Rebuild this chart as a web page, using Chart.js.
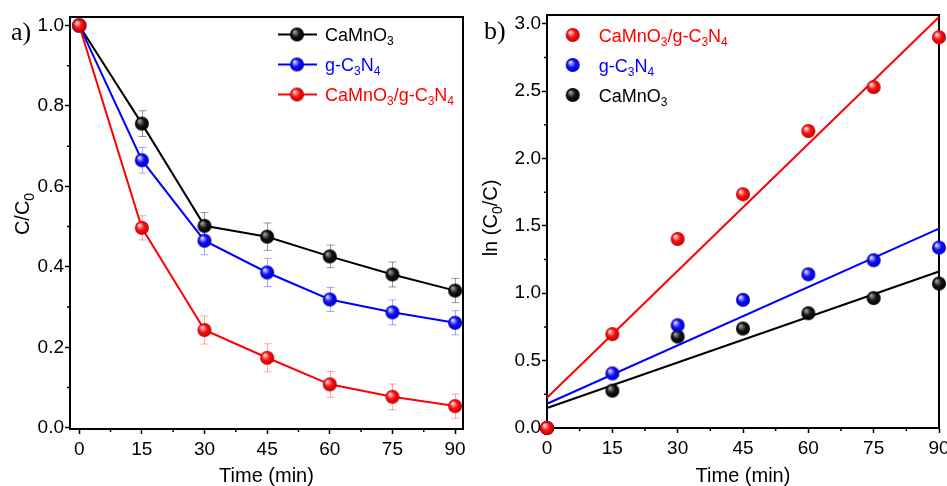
<!DOCTYPE html>
<html>
<head>
<meta charset="utf-8">
<script src="https://cdn.jsdelivr.net/npm/chart.js@4.4.0/dist/chart.umd.min.js"></script>
<style>
  html, body { margin: 0; padding: 0; background: #fff; }
  body { width: 947px; height: 486px; position: relative; overflow: hidden; }
  #chartA { position: absolute; left: 0; top: 0; }
  #chartB { position: absolute; left: 477px; top: 0; }
</style>
</head>
<body>
<canvas id="chartA" width="475" height="486"></canvas>
<canvas id="chartB" width="470" height="486"></canvas>
<script>
// time (min)
const times = [0, 15, 30, 45, 60, 75, 90];
const timeTicks = [0, 15, 30, 45, 60, 75, 90];
const timeMinor = [7.5, 22.5, 37.5, 52.5, 67.5, 82.5];

// a) C/C0
const ratioCaMnO3 = [1.0, 0.756, 0.502, 0.475, 0.426, 0.381, 0.341];
const ratioGCN = [1.0, 0.665, 0.465, 0.386, 0.319, 0.287, 0.261];
const ratioComposite = [1.0, 0.497, 0.243, 0.174, 0.108, 0.077, 0.054];
const errCaMnO3 = [0, 0.032, 0.033, 0.034, 0.028, 0.031, 0.030];
const errGCN = [0, 0.032, 0.035, 0.035, 0.030, 0.031, 0.030];
const errComposite = [0, 0.030, 0.035, 0.035, 0.032, 0.032, 0.030];
const ratioTicks = [0, 0.2, 0.4, 0.6, 0.8, 1.0];
const ratioMinor = [0.1, 0.3, 0.5, 0.7, 0.9];

// b) ln(C0/C)
const lnCaMnO3 = [0, 0.277, 0.679, 0.738, 0.852, 0.964, 1.072];
const lnGCN = [0, 0.405, 0.763, 0.951, 1.141, 1.245, 1.339];
const lnComposite = [0, 0.697, 1.403, 1.735, 2.204, 2.53, 2.90];
// linear fits: value at t = 0 and at t = 90
const fitTimes = [0, 90];
const fitCaMnO3 = [0.148, 1.161];
const fitGCN = [0.18, 1.48];
const fitComposite = [0.225, 3.05];
const lnTicks = [0, 0.5, 1.0, 1.5, 2.0, 2.5, 3.0];
const lnMinor = [0.25, 0.75, 1.25, 1.75, 2.25, 2.75];

const names = ['CaMnO3', 'g-C3N4', 'CaMnO3/g-C3N4'];
const FONT = '"Liberation Sans", Arial, sans-serif';

// shaded balls used as point markers
function makeBall(light, base, dark) {
  const r = 7;
  const c = document.createElement('canvas');
  c.width = c.height = 16;
  const g = c.getContext('2d');
  const grad = g.createRadialGradient(8 - 2.6, 8 - 2.8, 0.6, 8, 8, r);
  grad.addColorStop(0, light);
  grad.addColorStop(0.5, base);
  grad.addColorStop(1, dark);
  g.fillStyle = grad;
  g.beginPath();
  g.arc(8, 8, r, 0, Math.PI * 2);
  g.fill();
  return c;
}
const balls = [
  makeBall('#a0a0a0', '#151515', '#000000'),
  makeBall('#dcdcff', '#1010ff', '#0000b8'),
  makeBall('#ffdcdc', '#ff1010', '#c00000')
];
const lineColors = ['#000000', '#0000ff', '#ff0000'];
const errColors = ['rgba(0,0,0,0.4)', 'rgba(60,60,255,0.45)', 'rgba(255,60,60,0.45)'];

function pts(xs, ys) {
  return xs.map((x, i) => ({ x: x, y: ys[i] }));
}

// text with every digit drawn as a subscript
function drawRich(ctx, label, x, y, size, color, align) {
  const parts = label.split(/(\d+)/).filter(s => s).map(s => ({ t: s, sub: /^\d+$/.test(s) }));
  const main = size + 'px ' + FONT;
  const small = Math.round(size * 0.68) + 'px ' + FONT;
  let w = 0;
  parts.forEach(p => {
    ctx.font = p.sub ? small : main;
    p.w = ctx.measureText(p.t).width;
    w += p.w;
  });
  let cx = align === 'center' ? x - w / 2 : x;
  ctx.fillStyle = color;
  ctx.textAlign = 'left';
  ctx.textBaseline = 'alphabetic';
  parts.forEach(p => {
    ctx.font = p.sub ? small : main;
    ctx.fillText(p.t, cx, p.sub ? y + size * 0.24 : y);
    cx += p.w;
  });
}

const errorBars = {
  id: 'errorBars',
  beforeDatasetsDraw(chart) {
    const ctx = chart.ctx;
    const xs = chart.scales.x, ys = chart.scales.y;
    ctx.save();
    chart.data.datasets.forEach(ds => {
      if (!ds.errors) return;
      ctx.strokeStyle = ds.errorColor;
      ctx.lineWidth = 1;
      ds.data.forEach((p, j) => {
        const e = ds.errors[j];
        if (!e) return;
        const x = Math.round(xs.getPixelForValue(p.x)) + 0.5;
        const y1 = ys.getPixelForValue(p.y + e);
        const y2 = ys.getPixelForValue(p.y - e);
        ctx.beginPath();
        ctx.moveTo(x, y1); ctx.lineTo(x, y2);
        ctx.moveTo(x - 4, y1); ctx.lineTo(x + 4, y1);
        ctx.moveTo(x - 4, y2); ctx.lineTo(x + 4, y2);
        ctx.stroke();
      });
    });
    ctx.restore();
  }
};

// frame, minor ticks, titles, legend, panel letter
const decor = {
  id: 'decor',
  beforeDatasetsDraw(chart, args, o) {
    const ctx = chart.ctx, a = chart.chartArea;
    const xs = chart.scales.x, ys = chart.scales.y;
    ctx.save();
    ctx.strokeStyle = '#000';
    ctx.lineWidth = 2;
    ctx.strokeRect(a.left, a.top, a.right - a.left, a.bottom - a.top);
    ctx.lineWidth = 1.5;
    ctx.beginPath();
    o.xMinor.forEach(v => {
      const x = xs.getPixelForValue(v);
      ctx.moveTo(x, a.bottom); ctx.lineTo(x, a.bottom + 3);
    });
    o.yMinor.forEach(v => {
      const y = ys.getPixelForValue(v);
      ctx.moveTo(a.left, y); ctx.lineTo(a.left - 3, y);
    });
    ctx.stroke();
    ctx.restore();
  },
  afterDraw(chart, args, o) {
    const ctx = chart.ctx, a = chart.chartArea;
    ctx.save();
    drawRich(ctx, 'Time (min)', (a.left + a.right) / 2, o.xTitleY, 20, '#000', 'center');
    ctx.save();
    ctx.translate(o.yTitleX, o.yTitleY);
    ctx.rotate(-Math.PI / 2);
    drawRich(ctx, o.yTitle, 0, 0, 20, '#000', 'center');
    ctx.restore();
    ctx.font = '26px "Liberation Serif", "Times New Roman", serif';
    ctx.fillStyle = '#000';
    ctx.textAlign = 'left';
    ctx.textBaseline = 'alphabetic';
    ctx.fillText(o.letter, o.letterX, o.letterY);
    const L = o.legend;
    L.rows.forEach((k, i) => {
      const y = L.y0 + i * L.dy;
      if (L.line) {
        ctx.strokeStyle = lineColors[k];
        ctx.lineWidth = 2;
        ctx.beginPath();
        ctx.moveTo(L.lineX0, y); ctx.lineTo(L.lineX1, y);
        ctx.stroke();
      }
      ctx.drawImage(balls[k], L.ballX - 8, y - 8);
      drawRich(ctx, names[k], L.textX, y + 6.5, 18, lineColors[k], 'left');
    });
    ctx.restore();
  }
};

function axisX(min, max, h) {
  return {
    type: 'linear', min: min, max: max,
    afterBuildTicks: s => { s.ticks = timeTicks.map(v => ({ value: v })); },
    afterFit: s => { s.height = h; s.paddingLeft = 0; s.paddingRight = 0; },
    grid: { drawOnChartArea: false, tickLength: 5, tickColor: '#000', tickWidth: 1.5 },
    border: { display: true, color: '#000', width: 2 },
    ticks: { color: '#000', font: { family: FONT, size: 19 }, padding: 4, maxRotation: 0, autoSkip: false, callback: v => String(v) }
  };
}
function axisY(min, max, tickVals) {
  return {
    type: 'linear', min: min, max: max,
    afterBuildTicks: s => { s.ticks = tickVals.map(v => ({ value: v })); },
    afterFit: s => { s.width = 70; s.paddingTop = 0; s.paddingBottom = 0; },
    grid: { drawOnChartArea: false, tickLength: 5, tickColor: '#000', tickWidth: 1.5 },
    border: { display: true, color: '#000', width: 2 },
    ticks: { color: '#000', font: { family: FONT, size: 19 }, padding: 1, autoSkip: false, callback: v => v.toFixed(1) }
  };
}

const ratios = [ratioCaMnO3, ratioGCN, ratioComposite];
const errs = [errCaMnO3, errGCN, errComposite];
new Chart(document.getElementById('chartA'), {
  type: 'line',
  data: {
    datasets: [0, 1, 2].map(k => ({
      label: names[k],
      data: pts(times, ratios[k]),
      errors: errs[k],
      errorColor: errColors[k],
      borderColor: lineColors[k],
      borderWidth: 2,
      tension: 0,
      pointStyle: balls[k],
      pointRadius: 7,
      clip: false,
      order: 2 - k
    }))
  },
  options: {
    responsive: false,
    animation: false,
    layout: { padding: { top: 17, right: 12, left: 0, bottom: 0 } },
    scales: { x: axisX(-2.2, 91.9, 57), y: axisY(-0.003, 1.021, ratioTicks) },
    plugins: {
      legend: { display: false },
      tooltip: { enabled: false },
      decor: {
        xMinor: timeMinor, yMinor: ratioMinor,
        xTitleY: 482, yTitle: 'C/C0', yTitleX: 29, yTitleY: 214,
        letter: 'a)', letterX: 11, letterY: 40,
        legend: { rows: [0, 1, 2], y0: 34.5, dy: 30, line: true, lineX0: 278, lineX1: 317, ballX: 297, textX: 325 }
      }
    }
  },
  plugins: [errorBars, decor]
});

const lns = [lnCaMnO3, lnGCN, lnComposite];
const fits = [fitCaMnO3, fitGCN, fitComposite];
const setsB = [];
[0, 1, 2].forEach(k => {
  setsB.push({
    label: names[k] + ' fit',
    data: pts(fitTimes, fits[k]),
    showLine: true,
    borderColor: lineColors[k],
    borderWidth: 2,
    pointRadius: 0,
    clip: false,
    order: 10 - k
  });
  setsB.push({
    label: names[k],
    data: pts(times, lns[k]),
    showLine: false,
    pointStyle: balls[k],
    pointRadius: 7,
    clip: false,
    order: 4 - k
  });
});
new Chart(document.getElementById('chartB'), {
  type: 'scatter',
  data: { datasets: setsB },
  options: {
    responsive: false,
    animation: false,
    layout: { padding: { top: 15, right: 8, left: 0, bottom: 0 } },
    scales: { x: axisX(0, 90, 58), y: axisY(0, 3.065, lnTicks) },
    plugins: {
      legend: { display: false },
      tooltip: { enabled: false },
      decor: {
        xMinor: timeMinor, yMinor: lnMinor,
        xTitleY: 482, yTitle: 'ln (C0/C)', yTitleX: 20, yTitleY: 218,
        letter: 'b)', letterX: 7, letterY: 39,
        legend: { rows: [2, 1, 0], y0: 35, dy: 30, line: false, ballX: 95.7, textX: 121.7 }
      }
    }
  },
  plugins: [decor]
});
</script>
</body>
</html>
